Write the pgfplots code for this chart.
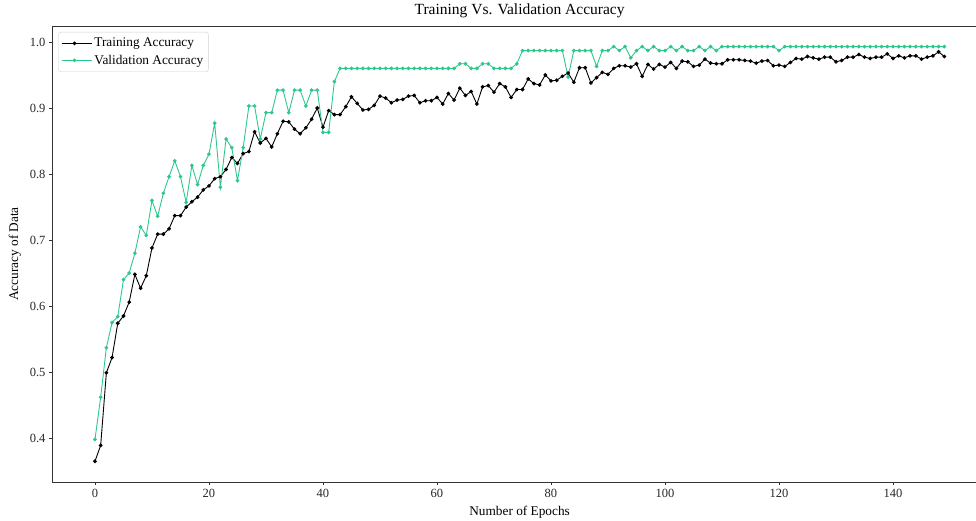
\documentclass[border=0pt]{standalone}
\usepackage{pgfplots}
\usepackage{pgfplotstable}
\pgfplotsset{compat=1.18}
\usepackage{fontspec}
\setmainfont{Liberation Serif}
\definecolor{valgreen}{RGB}{46,200,140}

\pgfplotstableread{
x y
0 0.365
1 0.389
2 0.499
3 0.522
4 0.574
5 0.585
6 0.606
7 0.648
8 0.627
9 0.646
10 0.688
11 0.709
12 0.709
13 0.717
14 0.737
15 0.737
16 0.750
17 0.758
18 0.765
19 0.776
20 0.782
21 0.793
22 0.796
23 0.807
24 0.825
25 0.816
26 0.831
27 0.834
28 0.864
29 0.847
30 0.854
31 0.841
32 0.861
33 0.880
34 0.879
35 0.868
36 0.861
37 0.870
38 0.883
39 0.900
40 0.871
41 0.896
42 0.890
43 0.890
44 0.902
45 0.917
46 0.907
47 0.897
48 0.898
49 0.904
50 0.918
51 0.915
52 0.908
53 0.912
54 0.913
55 0.918
56 0.919
57 0.908
58 0.911
59 0.911
60 0.916
61 0.906
62 0.922
63 0.912
64 0.930
65 0.919
66 0.925
67 0.906
68 0.932
69 0.934
70 0.924
71 0.937
72 0.932
73 0.916
74 0.928
75 0.928
76 0.944
77 0.937
78 0.935
79 0.950
80 0.941
81 0.942
82 0.948
83 0.953
84 0.939
85 0.961
86 0.961
87 0.938
88 0.946
89 0.954
90 0.951
91 0.960
92 0.964
93 0.964
94 0.962
95 0.967
96 0.948
97 0.966
98 0.959
99 0.966
100 0.962
101 0.969
102 0.960
103 0.971
104 0.970
105 0.963
106 0.965
107 0.974
108 0.968
109 0.967
110 0.967
111 0.973
112 0.973
113 0.973
114 0.972
115 0.971
116 0.968
117 0.971
118 0.972
119 0.964
120 0.965
121 0.963
122 0.969
123 0.975
124 0.974
125 0.978
126 0.976
127 0.974
128 0.977
129 0.977
130 0.970
131 0.972
132 0.977
133 0.977
134 0.981
135 0.977
136 0.975
137 0.977
138 0.977
139 0.982
140 0.975
141 0.979
142 0.976
143 0.979
144 0.979
145 0.974
146 0.977
147 0.979
148 0.985
149 0.978
}\trainacc

\pgfplotstableread{
x y
0 0.398
1 0.462
2 0.537
3 0.575
4 0.584
5 0.640
6 0.650
7 0.680
8 0.720
9 0.707
10 0.760
11 0.736
12 0.771
13 0.796
14 0.820
15 0.796
16 0.757
17 0.813
18 0.784
19 0.813
20 0.830
21 0.877
22 0.780
23 0.853
24 0.840
25 0.790
26 0.840
27 0.903
28 0.903
29 0.853
30 0.893
31 0.893
32 0.927
33 0.927
34 0.893
35 0.927
36 0.927
37 0.903
38 0.927
39 0.927
40 0.863
41 0.863
42 0.940
43 0.960
44 0.960
45 0.960
46 0.960
47 0.960
48 0.960
49 0.960
50 0.960
51 0.960
52 0.960
53 0.960
54 0.960
55 0.960
56 0.960
57 0.960
58 0.960
59 0.960
60 0.960
61 0.960
62 0.960
63 0.960
64 0.967
65 0.967
66 0.960
67 0.960
68 0.967
69 0.967
70 0.960
71 0.960
72 0.960
73 0.960
74 0.967
75 0.987
76 0.987
77 0.987
78 0.987
79 0.987
80 0.987
81 0.987
82 0.987
83 0.947
84 0.987
85 0.987
86 0.987
87 0.987
88 0.963
89 0.987
90 0.987
91 0.993
92 0.987
93 0.993
94 0.976
95 0.987
96 0.993
97 0.987
98 0.993
99 0.987
100 0.987
101 0.993
102 0.987
103 0.993
104 0.987
105 0.987
106 0.993
107 0.987
108 0.993
109 0.987
110 0.993
111 0.993
112 0.993
113 0.993
114 0.993
115 0.993
116 0.993
117 0.993
118 0.993
119 0.993
120 0.987
121 0.993
122 0.993
123 0.993
124 0.993
125 0.993
126 0.993
127 0.993
128 0.993
129 0.993
130 0.993
131 0.993
132 0.993
133 0.993
134 0.993
135 0.993
136 0.993
137 0.993
138 0.993
139 0.993
140 0.993
141 0.993
142 0.993
143 0.993
144 0.993
145 0.993
146 0.993
147 0.993
148 0.993
149 0.993
}\valacc

\begin{document}
\begin{tikzpicture}
\begin{axis}[
  scale only axis,
  width=923.5pt, height=456pt,
  xmin=-7.45, xmax=154.56,
  ymin=0.3336, ymax=1.0242,
  axis x line=box, axis y line=left,
  axis line style={-, line width=0.8pt, color=black!80},
  every outer y axis line/.append style={-},
  every outer x axis line/.append style={-},
  tick align=outside, tick pos=left,
  major tick length=3.5pt,
  tick style={line width=0.8pt, color=black!80},
  xtick={0,20,...,140},
  ytick={0.4,0.5,0.6,0.7,0.8,0.9,1.0},
  /pgf/number format/assume math mode=true,
  yticklabel style={/pgf/number format/.cd, fixed, fixed zerofill, precision=1},
  ticklabel style={font=\fontsize{12.5pt}{14pt}\selectfont, color=black!85},
  title={Training Vs. Validation Accuracy},
  title style={at={(axis description cs:0.5058,1.0121)}, anchor=base, font=\fontsize{15.5pt}{18pt}\selectfont},
  xlabel={Number of Epochs},
  ylabel={Accuracy of Data},
  every axis x label/.style={at={(axis description cs:0.5058,-0.0724)}, anchor=base, font=\fontsize{13.3pt}{15pt}\selectfont},
  every axis y label/.style={at={(axis description cs:-0.0406,0.5)}, rotate=90, anchor=center, font=\fontsize{13.3pt}{15pt}\selectfont},
  legend style={at={(axis description cs:0,1)}, anchor=north west, xshift=5.8pt, yshift=-6pt,
    draw=black!18, rounded corners=2.5pt, fill=white, font=\fontsize{13.3pt}{15pt}\selectfont,
    inner xsep=3pt, inner ysep=4pt, row sep=2.5pt},
  legend cell align=left,
  legend image code/.code={
    \draw[#1, mark repeat=2, mark phase=2] plot coordinates {(0pt,0pt) (12.5pt,0pt) (25pt,0pt)};
    \path (0pt,0pt) -- (30pt,0pt);
  },
]
\addplot[black, line width=0.9pt, mark=*, mark size=1.4pt] table[x=x,y=y] {\trainacc};
\addlegendentry{Training Accuracy}
\addplot[valgreen, line width=0.9pt, mark=*, mark size=1.4pt] table[x=x,y=y] {\valacc};
\addlegendentry{Validation Accuracy}
\end{axis}
\pgfresetboundingbox
\path[use as bounding box] ([shift={(-52.5pt,-39pt)}]current axis.south west) rectangle ([shift={(0pt,26pt)}]current axis.north east);
\end{tikzpicture}
\end{document}
